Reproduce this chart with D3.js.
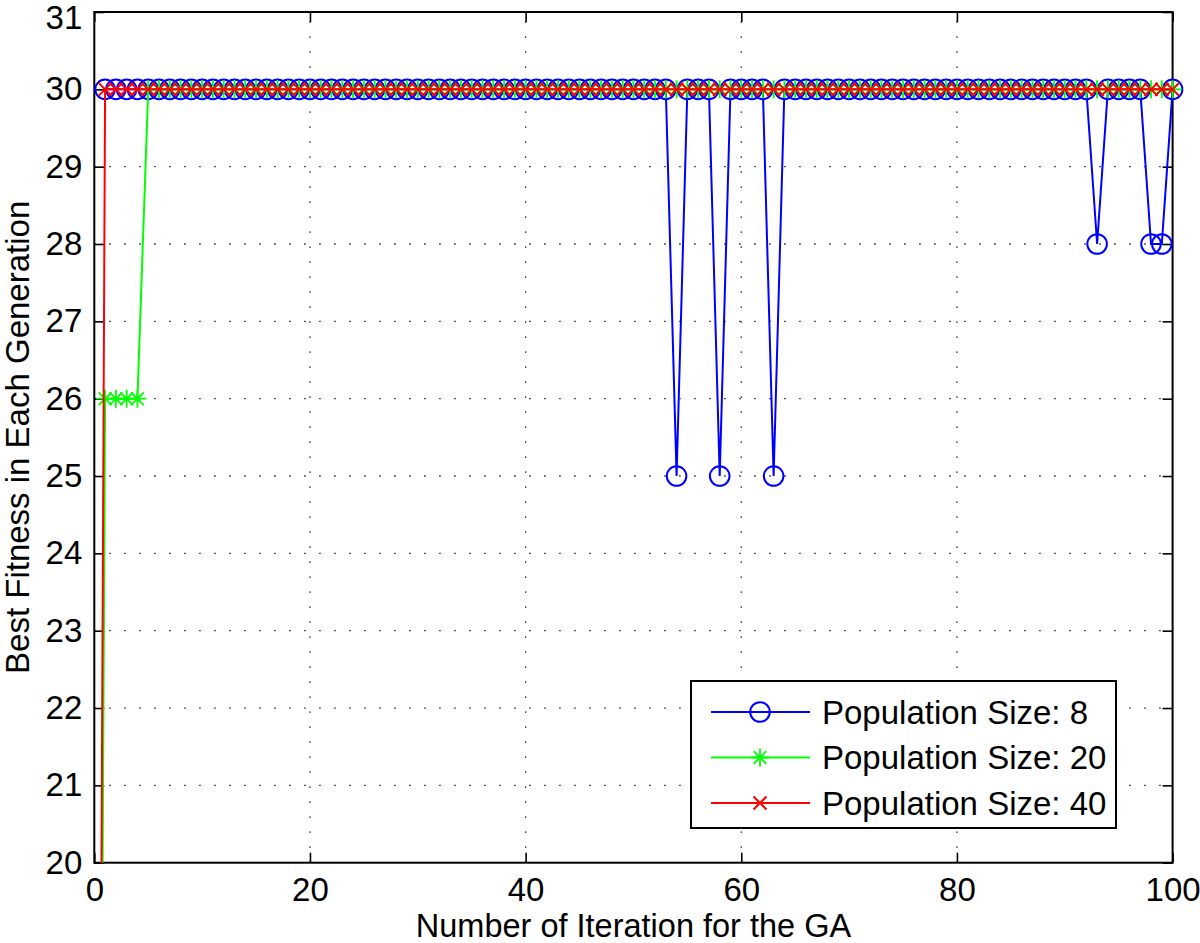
<!DOCTYPE html>
<html><head><meta charset="utf-8">
<script src="https://cdn.jsdelivr.net/npm/d3@7"></script>
<style>body{margin:0;background:#fff}svg{display:block}text{font-family:"Liberation Sans",Arial,Helvetica,sans-serif;fill:#000}</style>
</head><body><svg id="c" width="1200" height="943"></svg>
<script>
// Generation index (0 = initial population, shown off-scale below 20)
const iterations = d3.range(0, 101);
// Population size 8: starts at generation 1
const pop8 = iterations.map(i => i === 0 ? null :
  ([54, 58, 63].includes(i) ? 25 : ([93, 98, 99].includes(i) ? 28 : 30)));
// Population size 20
const pop20 = iterations.map(i => i === 0 ? 0 : (i <= 4 ? 26 : 30));
// Population size 40
const pop40 = iterations.map(i => i === 0 ? 0 : 30);
const seriesNames = ["Population Size: 8", "Population Size: 20", "Population Size: 40"];
const seriesColors = ["#0000ff", "#00ff00", "#ff0000"];
const seriesMarkers = ["circle", "star", "x"];
const xTicks = [0, 20, 40, 60, 80, 100];
const yTicks = [20, 21, 22, 23, 24, 25, 26, 27, 28, 29, 30, 31];
const xLabel = "Number of Iteration for the GA";
const yLabel = "Best Fitness in Each Generation";

const L = 94.3, R = 1172.6, T = 12, B = 862.7;
const FS = 33;
const svg = d3.select("#c");
const x = d3.scaleLinear().domain([0, 100]).range([L, R]);
const y = d3.scaleLinear().domain([20, 31]).range([B, T]);

svg.append("defs").append("clipPath").attr("id", "clip")
  .append("rect").attr("x", L - 12).attr("y", T - 12).attr("width", R - L + 24).attr("height", B - T + 12);

// grid
const grid = svg.append("g");
xTicks.slice(1, -1).forEach(t => grid.append("line")
  .attr("x1", x(t)).attr("x2", x(t)).attr("y1", B).attr("y2", T)
  .attr("stroke", "#000").attr("stroke-width", 1.3).attr("stroke-dasharray", "1.3,13.7"));
yTicks.slice(1, -1).forEach(t => grid.append("line")
  .attr("x1", L).attr("x2", R).attr("y1", y(t)).attr("y2", y(t))
  .attr("stroke", "#000").attr("stroke-width", 1.3).attr("stroke-dasharray", "1.3,13.7"));

// axes
const ax = svg.append("g").attr("transform", `translate(0,${B})`)
  .call(d3.axisBottom(x).tickValues(xTicks).tickSizeInner(-10).tickSizeOuter(0).tickPadding(15));
const ay = svg.append("g").attr("transform", `translate(${L},0)`)
  .call(d3.axisLeft(y).tickValues(yTicks).tickSizeInner(-10).tickSizeOuter(0).tickPadding(12));
const axT = svg.append("g").attr("transform", `translate(0,${T})`)
  .call(d3.axisTop(x).tickValues(xTicks).tickSizeInner(-10).tickSizeOuter(0).tickFormat(""));
const ayR = svg.append("g").attr("transform", `translate(${R},0)`)
  .call(d3.axisRight(y).tickValues(yTicks).tickSizeInner(-10).tickSizeOuter(0).tickFormat(""));
[ax, ay, axT, ayR].forEach(g => {
  g.select(".domain").remove();
  g.selectAll("line").attr("stroke", "#000").attr("stroke-width", 1.6);
  g.selectAll("text").style("font-size", FS + "px").style("font-family", '"Liberation Sans",Arial,sans-serif');
});
// keep the top tick label inside the picture
ay.selectAll(".tick").filter(d => d === 31).select("text").attr("dy", "0.5em");
svg.append("rect").attr("x", L).attr("y", T).attr("width", R - L).attr("height", B - T)
  .attr("fill", "none").attr("stroke", "#000").attr("stroke-width", 2);

function marker(g, type, cx, cy, color) {
  if (type === "circle") {
    g.append("circle").attr("cx", cx).attr("cy", cy).attr("r", 9.8)
      .attr("fill", "none").attr("stroke", color).attr("stroke-width", 2);
  } else if (type === "x") {
    const s = 6.5;
    g.append("path").attr("d", `M${cx - s},${cy - s}L${cx + s},${cy + s}M${cx - s},${cy + s}L${cx + s},${cy - s}`)
      .attr("stroke", color).attr("stroke-width", 2).attr("fill", "none");
  } else {
    const s = 9, d = 6.4;
    g.append("path").attr("d", `M${cx - s},${cy}L${cx + s},${cy}M${cx},${cy - s}L${cx},${cy + s}M${cx - d},${cy - d}L${cx + d},${cy + d}M${cx - d},${cy + d}L${cx + d},${cy - d}`)
      .attr("stroke", color).attr("stroke-width", 1.8).attr("fill", "none");
  }
}

const allSeries = [pop8, pop20, pop40];
const plot = svg.append("g").attr("clip-path", "url(#clip)");
allSeries.forEach((vals, k) => {
  const pts = iterations.map((it, i) => ({ it, v: vals[i] })).filter(p => p.v !== null);
  plot.append("path").datum(pts)
    .attr("d", d3.line().x(p => x(p.it)).y(p => y(p.v)))
    .attr("fill", "none").attr("stroke", seriesColors[k]).attr("stroke-width", 2);
  const mg = plot.append("g");
  pts.filter(p => p.v >= 20).forEach(p => marker(mg, seriesMarkers[k], x(p.it), y(p.v), seriesColors[k]));
});

// labels
svg.append("text").attr("x", (L + R) / 2).attr("y", 937).attr("text-anchor", "middle")
  .style("font-size", "32.5px").text(xLabel);
svg.append("text").attr("transform", `translate(29,${(T + B) / 2}) rotate(-90)`).attr("text-anchor", "middle")
  .style("font-size", FS + "px").text(yLabel);

// legend
const lg = svg.append("g");
lg.append("rect").attr("x", 691).attr("y", 681).attr("width", 425).attr("height", 147)
  .attr("fill", "#fff").attr("stroke", "#000").attr("stroke-width", 2);
seriesNames.forEach((n, k) => {
  const yy = 712 + k * 45.5;
  lg.append("line").attr("x1", 711).attr("x2", 810).attr("y1", yy).attr("y2", yy)
    .attr("stroke", seriesColors[k]).attr("stroke-width", 2);
  marker(lg, seriesMarkers[k], 760, yy, seriesColors[k]);
  lg.append("text").attr("x", 822).attr("y", yy).attr("dy", "0.36em")
    .style("font-size", FS + "px").text(n);
});
</script></body></html>
